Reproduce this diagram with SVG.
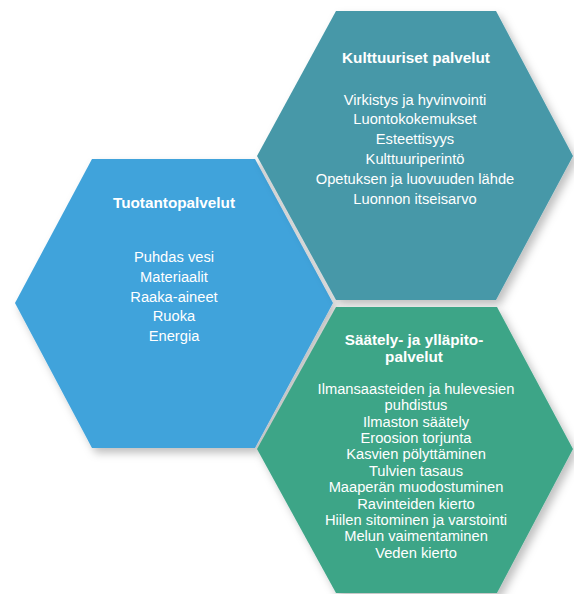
<svg xmlns="http://www.w3.org/2000/svg" width="574" height="594" viewBox="0 0 574 594">
  <style>
    .title { font-family: "Liberation Sans", Arial, sans-serif; font-weight: bold; font-size: 15.3px; fill: #ffffff; text-anchor: middle; }
    .item { font-family: "Liberation Sans", Arial, sans-serif; font-size: 14.7px; fill: #ffffff; text-anchor: middle; }
    .hex { filter: url(#shadow); }
  </style>
  <defs>
    <filter id="shadow" x="-20%" y="-20%" width="140%" height="140%">
      <feDropShadow dx="4" dy="5" stdDeviation="4" flood-color="#000000" flood-opacity="0.25"/>
    </filter>
  </defs>
  <rect width="574" height="594" fill="#ffffff"/>
  <g id="connectors"/>

  <g id="tuotantopalvelut">
    <polygon class="hex" points="92,159 255,159 333,303 255,448 92,448 15,303" fill="#40a3db"/>
    <text class="title" x="174" y="208">Tuotantopalvelut</text>
    <text class="item" x="174" y="262">Puhdas vesi</text>
    <text class="item" x="174" y="282">Materiaalit</text>
    <text class="item" x="174" y="302">Raaka-aineet</text>
    <text class="item" x="174" y="321">Ruoka</text>
    <text class="item" x="174" y="341">Energia</text>
  </g>

  <g id="kulttuuriset-palvelut">
    <polygon class="hex" points="336,11 496,11 573,156 496,300 336,300 257,156" fill="#4698a8"/>
    <text class="title" x="416" y="63">Kulttuuriset palvelut</text>
    <text class="item" x="415" y="105">Virkistys ja hyvinvointi</text>
    <text class="item" x="415" y="124">Luontokokemukset</text>
    <text class="item" x="415" y="144">Esteettisyys</text>
    <text class="item" x="415" y="164">Kulttuuriperintö</text>
    <text class="item" x="415" y="184">Opetuksen ja luovuuden lähde</text>
    <text class="item" x="415" y="204">Luonnon itseisarvo</text>
  </g>

  <g id="saately-ja-yllapitopalvelut">
    <polygon class="hex" points="336,307 497,307 573,449 497,593 336,593 257,449" fill="#3ea587"/>
    <text class="title" x="414" y="345">Säätely- ja ylläpito-</text>
    <text class="title" x="414" y="362">palvelut</text>
    <text class="item" x="416" y="394">Ilmansaasteiden ja hulevesien</text>
    <text class="item" x="416" y="410.4">puhdistus</text>
    <text class="item" x="416" y="426.7">Ilmaston säätely</text>
    <text class="item" x="416" y="443">Eroosion torjunta</text>
    <text class="item" x="416" y="459.4">Kasvien pölyttäminen</text>
    <text class="item" x="416" y="475.8">Tulvien tasaus</text>
    <text class="item" x="416" y="492.1">Maaperän muodostuminen</text>
    <text class="item" x="416" y="508.5">Ravinteiden kierto</text>
    <text class="item" x="416" y="524.8">Hiilen sitominen ja varstointi</text>
    <text class="item" x="416" y="541.2">Melun vaimentaminen</text>
    <text class="item" x="416" y="557.5">Veden kierto</text>
  </g>
</svg>
